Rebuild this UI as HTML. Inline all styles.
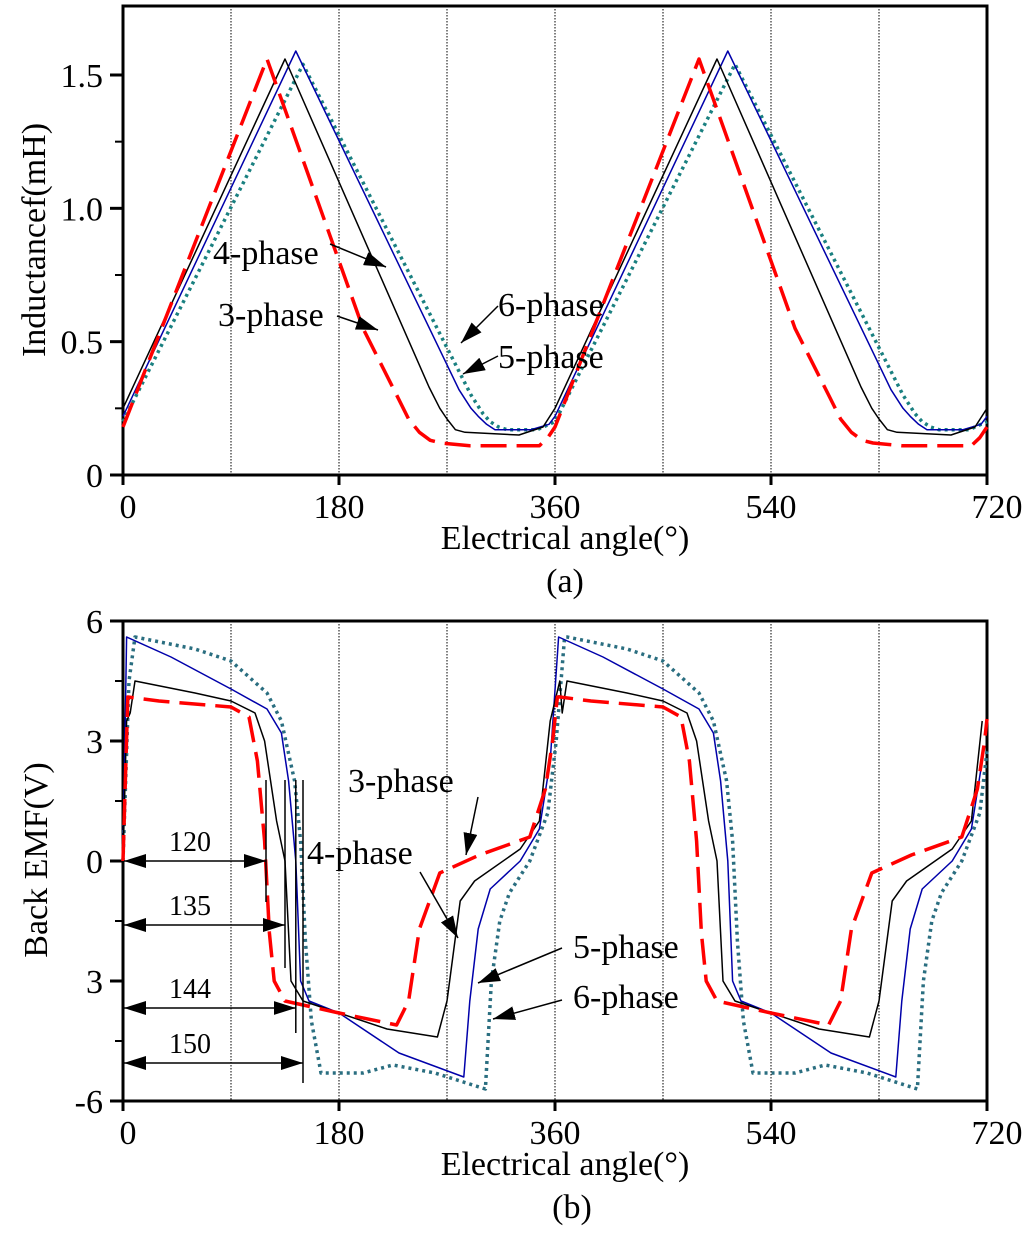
<!DOCTYPE html>
<html><head><meta charset="utf-8">
<style>
html,body{margin:0;padding:0;background:#fff;}
svg{display:block;}
text{font-family:"Liberation Serif",serif;fill:#000;}
</style></head>
<body>
<svg id="chart" width="1024" height="1234" viewBox="0 0 1024 1234" xmlns="http://www.w3.org/2000/svg">
<defs>
<marker id="ah2" markerWidth="22" markerHeight="14" refX="22" refY="7" orient="auto" markerUnits="userSpaceOnUse"><path d="M0,0 L22,7 L0,14 Z" fill="#000"/></marker>
<marker id="ah2s" markerWidth="22" markerHeight="14" refX="0" refY="7" orient="auto" markerUnits="userSpaceOnUse"><path d="M22,0 L0,7 L22,14 Z" fill="#000"/></marker>
</defs>
<g id="top"></g>
<g id="bot"></g>
</svg>
<script>
// ---- Inductance data (one 360° period, repeated) ----
const indAngles3 = [0,120,200,228,238,247,256,265,289,347,354,360];
const ind3 = [0.18,1.56,0.55,0.30,0.21,0.16,0.13,0.12,0.11,0.11,0.14,0.18];
const indAngles4 = [0,135,255,264,270,277,285,330,350,360];
const ind4 = [0.25,1.56,0.33,0.25,0.21,0.17,0.16,0.15,0.18,0.25];
const indAngles5 = [0,144,280,290,296,303,310,340,355,360];
const ind5 = [0.22,1.59,0.32,0.25,0.22,0.19,0.17,0.17,0.19,0.22];
const indAngles6 = [0,150,290,300,306,313,320,345,360];
const ind6 = [0.20,1.54,0.30,0.23,0.20,0.18,0.17,0.17,0.20];
// ---- Back EMF data (one period) ----
const emfAngles3 = [0,4,30,90,105,112,118,122,126,135,180,228,238,247,264,297,339,352,358,362];
const emf3 = [0,4.1,4.0,3.85,3.6,2.5,0.5,-1.8,-3.0,-3.5,-3.8,-4.1,-3.5,-1.7,-0.3,0.15,0.6,1.8,3.0,4.1];
const emfAngles4 = [0,3,6,10,60,90,110,118,128,135,140,150,180,220,262,270,281,293,331,347,356,364];
const emf4 = [0,3.5,3.7,4.5,4.2,4.0,3.7,3.0,1.0,0,-3.0,-3.5,-3.8,-4.2,-4.4,-3.5,-1.0,-0.5,0.3,1.0,3.5,4.5];
const emfAngles5 = [0,3,40,90,120,132,138,144,148,155,180,230,284,289,296,306,331,347,356,363];
const emf5 = [0,5.6,5.1,4.3,3.8,3.2,2.0,0,-3.0,-3.5,-3.8,-4.8,-5.4,-3.5,-1.7,-0.7,0,0.8,2.5,5.6];
const emfAngles6 = [0,5,10,60,90,120,132,143,148,152,157,165,200,225,260,302,307,314,322,339,354,361,368];
const emf6 = [0,4.5,5.6,5.3,5.0,4.2,3.5,2.0,0.5,-2.0,-4.0,-5.3,-5.3,-5.1,-5.3,-5.7,-3.0,-1.5,-0.8,0,1.2,3.0,5.6];
const xTicks = [0,180,360,540,720];
const gridAngles = [90,180,270,360,450,540,630];
const yTicksTop = [0,0.5,1.0,1.5];
const yTickLabelsTop = ["0","0.5","1.0","1.5"];
const yTicksBot = [6,3,0,-3,-6];
const yTickLabelsBot = ["6","3","0","3","-6"];
const dimAngles = [120,135,144,150];

const NS="http://www.w3.org/2000/svg";
function mk(parent,tag,attrs){const e=document.createElementNS(NS,tag);for(const k in attrs)e.setAttribute(k,attrs[k]);parent.appendChild(e);return e;}
const X0=123,X1=987;
const xs=a=>X0+(a/720)*(X1-X0);
const yT=v=>475-v*266.67;
const yB=v=>861-v*40;
function periodic(angles,vals){
  const pts=[];const last=angles[angles.length-1];const skip=last-360;
  angles.forEach((a,i)=>{pts.push([a,vals[i]]);});
  angles.forEach((a,i)=>{if(a<skip||(a===skip&&skip>0))return;const A=a+360;if(A<=722)pts.push([A,vals[i]]);});
  // trim at 720: interpolate
  const out=[];for(let i=0;i<pts.length;i++){const p=pts[i];
    if(p[0]<=720)out.push(p);else{const q=pts[i-1];const t=(720-q[0])/(p[0]-q[0]);out.push([720,q[1]+t*(p[1]-q[1])]);break;}}
  return out;}

function frame(g,top,bottom,ys,ticks,labels,minors){
  gridAngles.forEach(a=>{const l=mk(g,'line',{x1:xs(a),x2:xs(a),y1:top,y2:bottom,stroke:'#000','stroke-width':1,'stroke-dasharray':'1.5,1.5'});
    });
  const r=mk(g,'rect',{x:X0,y:top,width:X1-X0,height:bottom-top,fill:'none',stroke:'#000','stroke-width':3});
  
  ticks.forEach((v,i)=>{const y=ys(v);
    const t=mk(g,'line',{x1:X0-13,x2:X0,y1:y,y2:y,stroke:'#000','stroke-width':3});
    
    const tx=mk(g,'text',{x:X0-20,y:y+12,'font-size':34,'text-anchor':'end'});tx.textContent=labels[i];
    });
  minors.forEach(v=>{const y=ys(v);const t=mk(g,'line',{x1:X0-8,x2:X0,y1:y,y2:y,stroke:'#000','stroke-width':2});
    });
  xTicks.forEach(a=>{const x=xs(a);
    const t=mk(g,'line',{x1:x,x2:x,y1:bottom,y2:bottom+10,stroke:'#000','stroke-width':3});
    
    const tx=mk(g,'text',{x:a===0?x+5:(a===720?x+10:x),y:bottom+43,'font-size':34,'text-anchor':'middle'});tx.textContent=String(a);
    });
}
function series(g,ys,angles,vals,style,name){
  const pts=periodic(angles,vals).map(p=>xs(p[0]).toFixed(1)+','+ys(p[1]).toFixed(1)).join(' ');
  const pl=mk(g,'polyline',Object.assign({points:pts,fill:'none','stroke-linejoin':'round'},style));
  
}
function label(g,x,y,txt,name){const t=mk(g,'text',{x:x,y:y,'font-size':34});t.textContent=txt;
  }
function arrow(g,x1,y1,x2,y2,name){const l=mk(g,'line',{x1,y1,x2,y2,stroke:'#000','stroke-width':1.5,'marker-end':'url(#ah2)'});
  }

const RED={stroke:'#ff0000','stroke-width':3.5,'stroke-dasharray':'26,10'};
const BLK={stroke:'#000','stroke-width':1.5};
const BLU={stroke:'#0000aa','stroke-width':1.5};
const TEAL={stroke:'#1a8080','stroke-width':3.5,'stroke-dasharray':'3,4'};
const TEAL2={stroke:'#2a6e80','stroke-width':3.5,'stroke-dasharray':'3,4'};

// ---- top chart ----
const gt=document.getElementById('top');
frame(gt,6,475,yT,yTicksTop,yTickLabelsTop,[0.25,0.75,1.25]);
series(gt,yT,indAngles6,ind6,TEAL,'line-6-phase');
series(gt,yT,indAngles5,ind5,BLU,'line-5-phase');
series(gt,yT,indAngles4,ind4,BLK,'line-4-phase');
series(gt,yT,indAngles3,ind3,RED,'line-3-phase');
label(gt,213,264,'4-phase','label-4-phase');arrow(gt,330,244,386,267,'arrow-4-phase');
label(gt,218,326,'3-phase','label-3-phase');arrow(gt,337,316,378,330,'arrow-3-phase');
label(gt,498,316,'6-phase','label-6-phase');arrow(gt,498,306,461,343,'arrow-6-phase');
label(gt,498,368,'5-phase','label-5-phase');arrow(gt,498,356,463,374,'arrow-5-phase');
let t=mk(gt,'text',{x:0,y:0,'font-size':34,'text-anchor':'middle',transform:'translate(45,240) rotate(-90)'});t.textContent='Inductancef(mH)';

t=mk(gt,'text',{x:565,y:549,'font-size':34,'text-anchor':'middle'});t.textContent='Electrical angle(°)';

t=mk(gt,'text',{x:565,y:592,'font-size':34,'text-anchor':'middle'});t.textContent='(a)';


// ---- bottom chart ----
const gb=document.getElementById('bot');
frame(gb,621,1101,yB,yTicksBot,yTickLabelsBot,[4.5,1.5,-1.5,-4.5]);
series(gb,yB,emfAngles6,emf6,TEAL2,'emf-6-phase');
series(gb,yB,emfAngles5,emf5,BLU,'emf-5-phase');
series(gb,yB,emfAngles4,emf4,BLK,'emf-4-phase');
series(gb,yB,emfAngles3,emf3,RED,'emf-3-phase');
const dimY=[861,925,1008,1063], dimTop=[780,780,780,780], dimBot=[902,968,1033,1083];
dimAngles.forEach((a,i)=>{const x=xs(a)+(i===0?-1:0);
  const v=mk(gb,'line',{x1:x,x2:x,y1:dimTop[i],y2:dimBot[i],stroke:'#000','stroke-width':1.5});
  
  const l=mk(gb,'line',{x1:X0+1,y1:dimY[i],x2:x,y2:dimY[i],stroke:'#000','stroke-width':1.5,'marker-end':'url(#ah2)','marker-start':'url(#ah2s)'});
  
  const tx=mk(gb,'text',{x:190,y:dimY[i]-10,'font-size':28,'text-anchor':'middle'});tx.textContent=String(a);
  });
label(gb,348,792,'3-phase','label-3-phase');arrow(gb,478,797,466,855,'arrow-3-phase');
label(gb,307,864,'4-phase','label-4-phase');arrow(gb,420,872,458,938,'arrow-4-phase');
label(gb,573,958,'5-phase','label-5-phase');arrow(gb,562,948,478,983,'arrow-5-phase');
label(gb,573,1008,'6-phase','label-6-phase');arrow(gb,562,1000,493,1019,'arrow-6-phase');
t=mk(gb,'text',{x:0,y:0,'font-size':34,'text-anchor':'middle',transform:'translate(47,860) rotate(-90)'});t.textContent='Back EMF(V)';

t=mk(gb,'text',{x:565,y:1175,'font-size':34,'text-anchor':'middle'});t.textContent='Electrical angle(°)';

t=mk(gb,'text',{x:572,y:1218,'font-size':34,'text-anchor':'middle'});t.textContent='(b)';

</script>
</body></html>
